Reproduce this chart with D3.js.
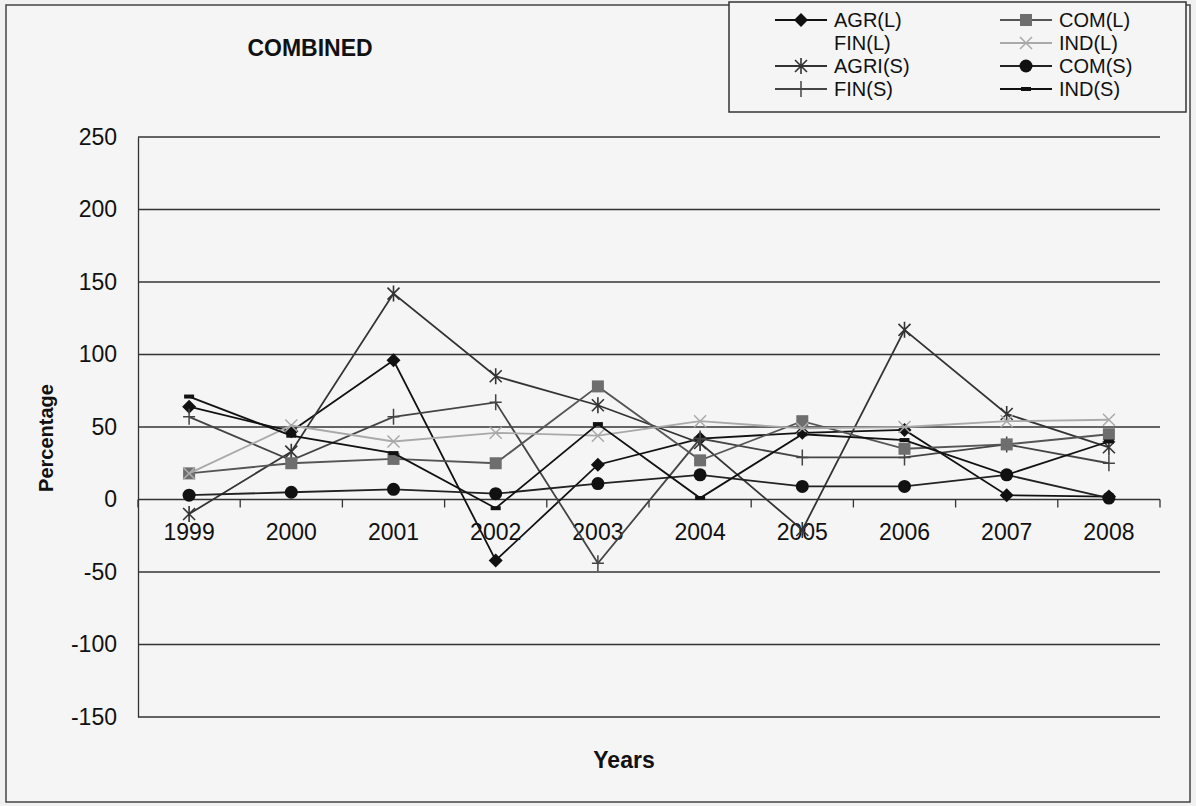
<!DOCTYPE html>
<html>
<head>
<meta charset="utf-8">
<script src="https://cdn.jsdelivr.net/npm/d3@7"></script>
<style>
  html, body { margin: 0; padding: 0; background: #f1f1f1; }
  svg { display: block; font-family: "Liberation Sans", Arial, sans-serif; }
</style>
</head>
<body>
<svg id="chart" width="1196" height="806"></svg>
<script>
// Years on the category axis
const years = ["1999", "2000", "2001", "2002", "2003", "2004", "2005", "2006", "2007", "2008"];
// Y axis tick values
const yTicks = [250, 200, 150, 100, 50, 0, -50, -100, -150];

// Series values (percentage) per year
const agrL  = [64, 47, 96, -42, 24, 42, 46, 48, 3, 2];
const finL  = [];
const agriS = [-10, 33, 142, 85, 65, 39, -21, 117, 59, 36];
const finS  = [57, 27, 57, 67, -44, 42, 29, 29, 38, 25];
const comL  = [18, 25, 28, 25, 78, 27, 54, 35, 38, 45];
const indL  = [18, 51, 40, 46, 44, 54, 49, 50, 54, 55];
const comS  = [3, 5, 7, 4, 11, 17, 9, 9, 17, 1];
const indS  = [71, 44, 32, -6, 52, 1, 45, 41, 17, 40];

const seriesNames = ["AGR(L)", "FIN(L)", "AGRI(S)", "FIN(S)", "COM(L)", "IND(L)", "COM(S)", "IND(S)"];
const seriesValues = [agrL, finL, agriS, finS, comL, indL, comS, indS];
const seriesStyle = {
  "AGR(L)":  { stroke: "#111", marker: "diamond", fill: "#111" },
  "FIN(L)":  { stroke: "none", marker: "none", fill: "none" },
  "AGRI(S)": { stroke: "#333", marker: "star", fill: "none" },
  "FIN(S)":  { stroke: "#444", marker: "plus", fill: "none" },
  "COM(L)":  { stroke: "#555", marker: "square", fill: "#6e6e6e" },
  "IND(L)":  { stroke: "#a9a9a9", marker: "cross", fill: "none" },
  "COM(S)":  { stroke: "#222", marker: "circle", fill: "#111" },
  "IND(S)":  { stroke: "#111", marker: "dash", fill: "#111" }
};

const svg = d3.select("#chart");

// outer chart frame
svg.append("rect").attr("x", 6).attr("y", 5).attr("width", 1184).attr("height", 797)
  .attr("fill", "#f5f5f5").attr("stroke", "#444").attr("stroke-width", 1.5);

const plot = { left: 138, right: 1160, top: 137, bottom: 717 };

const x = d3.scaleBand().domain(years).range([plot.left, plot.right]).padding(0);
const y = d3.scaleLinear().domain([-150, 250]).range([plot.bottom, plot.top]);
const cx = d => x(d) + x.bandwidth() / 2;

// horizontal gridlines
svg.append("g").selectAll("line").data(yTicks).join("line")
  .attr("x1", plot.left).attr("x2", plot.right)
  .attr("y1", d => y(d)).attr("y2", d => y(d))
  .attr("stroke", "#333").attr("stroke-width", 1.3);

// left value axis (plain hyphen for negatives)
const yAxis = d3.axisLeft(y).tickValues(yTicks).tickSize(0).tickPadding(21)
  .tickFormat(d => String(d));
const gy = svg.append("g").attr("transform", `translate(${plot.left},0)`).call(yAxis);
gy.select(".domain").attr("stroke", "#333").attr("stroke-width", 1.3);
gy.selectAll("text").attr("font-size", 23).attr("fill", "#111")
  .attr("font-family", "Liberation Sans, Arial, sans-serif");

// category axis along zero
const xAxis = d3.axisBottom(x).tickSize(0).tickPadding(24);
const gx = svg.append("g").attr("transform", `translate(0,${y(0)})`).call(xAxis);
gx.select(".domain").remove();
gx.selectAll("text").attr("font-size", 23).attr("fill", "#111")
  .attr("font-family", "Liberation Sans, Arial, sans-serif");
// tick marks at category boundaries
const bounds = years.map(d => x(d)).concat([plot.right]);
svg.append("g").selectAll("line").data(bounds).join("line")
  .attr("x1", d => d).attr("x2", d => d)
  .attr("y1", y(0)).attr("y2", y(0) + 8)
  .attr("stroke", "#333").attr("stroke-width", 1.3);

// title and axis titles
svg.append("text").attr("x", 310).attr("y", 56).attr("text-anchor", "middle")
  .attr("font-size", 23).attr("font-weight", "bold").attr("fill", "#111").text("COMBINED");
svg.append("text").attr("x", 624).attr("y", 768).attr("text-anchor", "middle")
  .attr("font-size", 23).attr("font-weight", "bold").attr("fill", "#111").text("Years");
svg.append("text").attr("transform", "translate(53,438) rotate(-90)").attr("text-anchor", "middle")
  .attr("font-size", 20).attr("font-weight", "bold").attr("fill", "#111").text("Percentage");

// marker drawing
function drawMarker(g, type, px, py, st) {
  switch (type) {
    case "diamond":
      g.append("path").attr("d", `M${px},${py - 7}L${px + 7},${py}L${px},${py + 7}L${px - 7},${py}Z`)
        .attr("fill", st.fill); break;
    case "square":
      g.append("rect").attr("x", px - 6).attr("y", py - 6).attr("width", 12).attr("height", 12)
        .attr("fill", st.fill); break;
    case "circle":
      g.append("circle").attr("cx", px).attr("cy", py).attr("r", 6.5).attr("fill", st.fill); break;
    case "cross":
      g.append("path").attr("d", `M${px - 6},${py - 6}L${px + 6},${py + 6}M${px - 6},${py + 6}L${px + 6},${py - 6}`)
        .attr("stroke", st.stroke).attr("stroke-width", 1.5); break;
    case "star":
      g.append("path").attr("d", `M${px - 6},${py - 6}L${px + 6},${py + 6}M${px - 6},${py + 6}L${px + 6},${py - 6}M${px},${py - 8}L${px},${py + 8}`)
        .attr("stroke", st.stroke).attr("stroke-width", 1.6); break;
    case "plus":
      g.append("path").attr("d", `M${px - 6},${py}L${px + 6},${py}M${px},${py - 8}L${px},${py + 8}`)
        .attr("stroke", st.stroke).attr("stroke-width", 1.5); break;
    case "dash":
      g.append("rect").attr("x", px - 5).attr("y", py - 2).attr("width", 10).attr("height", 4)
        .attr("fill", st.fill); break;
  }
}

// series lines and markers
const line = d3.line().x(d => cx(d.year)).y(d => y(d.value));
seriesNames.forEach((name, i) => {
  const vals = seriesValues[i];
  if (!vals.length) return;
  const st = seriesStyle[name];
  const pts = vals.map((v, k) => ({ year: years[k], value: v }));
  const g = svg.append("g");
  g.append("path").datum(pts).attr("d", line)
    .attr("fill", "none").attr("stroke", st.stroke).attr("stroke-width", 1.8);
  pts.forEach(p => drawMarker(g, st.marker, cx(p.year), y(p.value), st));
});

// legend
const leg = svg.append("g");
leg.append("rect").attr("x", 729).attr("y", 2).attr("width", 457).attr("height", 110)
  .attr("fill", "#f5f5f5").attr("stroke", "#333").attr("stroke-width", 1.5);
const rowY = [20, 43, 66, 89];
seriesNames.forEach((name, i) => {
  const col = Math.floor(i / 4), row = i % 4;
  const x0 = col === 0 ? 775 : 1000;
  const ly = rowY[row];
  const st = seriesStyle[name];
  if (st.stroke !== "none") {
    leg.append("line").attr("x1", x0).attr("x2", x0 + 52).attr("y1", ly).attr("y2", ly)
      .attr("stroke", st.stroke).attr("stroke-width", 1.8);
    drawMarker(leg, st.marker, x0 + 26, ly, st);
  }
  leg.append("text").attr("x", x0 + 59).attr("y", ly + 7).attr("font-size", 20)
    .attr("fill", "#111").text(name);
});
</script>
</body>
</html>
